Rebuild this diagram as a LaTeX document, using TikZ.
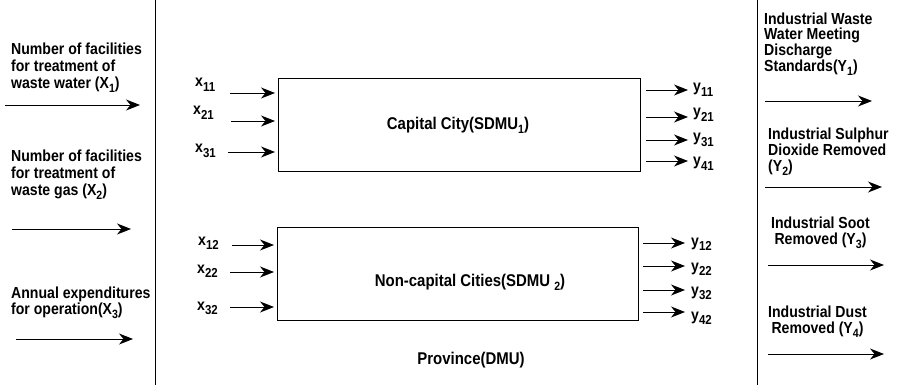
\documentclass[tikz,border=0pt]{standalone}
\usepackage{fontspec}
\setmainfont[FakeStretch=0.88]{Liberation Sans}
\usetikzlibrary{arrows.meta}
% lowered subscripts in the Helvetica-like style of the figure
\newcommand\lsub[1]{\raisebox{-0.45ex}{\fontsize{12}{12}\selectfont #1}}
\newcommand\xsub[1]{\raisebox{-0.55ex}{\fontsize{13}{13}\selectfont #1}}

\begin{document}
\begin{tikzpicture}[x=1pt,y=-1pt,
  txt/.style={font=\fontsize{16}{17}\selectfont\bfseries, inner sep=0pt, align=left, anchor=north west},
  lab/.style={font=\fontsize{16}{16}\selectfont\bfseries, inner sep=0pt, anchor=base west},
  title/.style={font=\fontsize{17}{17}\selectfont\bfseries, inner sep=0pt},
  arr/.style={-{Stealth[length=14pt,width=11pt,inset=4.5pt]}, line width=0.9pt},
  unit/.style={draw, line width=0.8pt, inner sep=0pt, anchor=north west}]

\useasboundingbox (0,0) rectangle (897,385);

% province (DMU) frame
\draw[line width=0.8pt] (155,-5) rectangle (757,390);
\node[title] (prov) at (471,360) {Province(DMU)};

% sub-DMUs
\node[unit, minimum width=362pt, minimum height=93pt] (cap) at (278,78) {};
\node[unit, minimum width=361pt, minimum height=93pt] (ncap) at (277,227) {};
\node[title] (capt) at (458,125) {Capital City(SDMU\lsub{1})};
\node[title] (ncapt) at (470,282) {Non-capital Cities(SDMU \lsub{2})};

% inputs of the capital city
\node[lab] (x11) at (195,87) {x\xsub{11}};
\node[lab] (x21) at (193,115) {x\xsub{21}};
\node[lab] (x31) at (195,153) {x\xsub{31}};
\coordinate (a11) at (230,93);
\coordinate (a21) at (231,121);
\coordinate (a31) at (228,152);
\foreach \c in {a11,a21,a31} \draw[arr, shorten >=3pt] (\c) -- (cap.west |- \c);

% inputs of the non-capital cities
\node[lab] (x12) at (198,245) {x\xsub{12}};
\node[lab] (x22) at (197,273) {x\xsub{22}};
\node[lab] (x32) at (197,310) {x\xsub{32}};
\coordinate (a12) at (232,245);
\coordinate (a22) at (230,272);
\coordinate (a32) at (230,307);
\foreach \c in {a12,a22,a32} \draw[arr, shorten >=3pt] (\c) -- (ncap.west |- \c);

% outputs of the capital city
\coordinate (b11) at (688,90);
\coordinate (b21) at (688,117);
\coordinate (b31) at (688,140);
\coordinate (b41) at (688,161);
\foreach \c in {b11,b21,b31,b41} \draw[arr, shorten <=5pt] (cap.east |- \c) -- (\c);
\node[lab] (y11) at (693,92) {y\xsub{11}};
\node[lab] (y21) at (693,117) {y\xsub{21}};
\node[lab] (y31) at (693,142) {y\xsub{31}};
\node[lab] (y41) at (693,166) {y\xsub{41}};

% outputs of the non-capital cities
\coordinate (b12) at (685,243);
\coordinate (b22) at (685,266);
\coordinate (b32) at (685,290);
\coordinate (b42) at (685,312);
\foreach \c in {b12,b22,b32,b42} \draw[arr, shorten <=4pt] (ncap.east |- \c) -- (\c);
\node[lab] (y12) at (691,246) {y\xsub{12}};
\node[lab] (y22) at (691,271) {y\xsub{22}};
\node[lab] (y32) at (691,295) {y\xsub{32}};
\node[lab] (y42) at (691,320) {y\xsub{42}};

% province inputs
\node[txt] (in1) at (11,43) {Number of facilities\\for treatment of\\waste water (X\lsub{1})};
\node[txt] (in2) at (11,150) {Number of facilities\\for treatment of\\waste gas (X\lsub{2})};
\node[txt, font=\fontsize{16}{15.5}\selectfont\bfseries] (in3) at (11,287) {Annual expenditures\\for operation(X\lsub{3})};
\coordinate (p1s) at (5,105);   \coordinate (p1e) at (140,105);
\coordinate (p2s) at (12,229);  \coordinate (p2e) at (131,229);
\coordinate (p3s) at (16,339);  \coordinate (p3e) at (133,339);
\draw[arr] (p1s) -- (p1e);
\draw[arr] (p2s) -- (p2e);
\draw[arr] (p3s) -- (p3e);

% province outputs
\node[txt, font=\fontsize{16}{14.8}\selectfont\bfseries] (out1) at (764,13) {Industrial Waste\\Water Meeting\\Discharge\\Standards(Y\lsub{1})};
\node[txt, font=\fontsize{16}{16}\selectfont\bfseries] (out2) at (768,128) {Industrial Sulphur\\Dioxide Removed\\(Y\lsub{2})};
\node[txt, align=center, font=\fontsize{16}{16}\selectfont\bfseries] (out3) at (771,217) {Industrial Soot\\Removed (Y\lsub{3})};
\node[txt, align=center, font=\fontsize{16}{15.5}\selectfont\bfseries] (out4) at (768,306) {Industrial Dust\\Removed (Y\lsub{4})};
\coordinate (q1s) at (765,101); \coordinate (q1e) at (872,101);
\coordinate (q2s) at (765,187); \coordinate (q2e) at (882,187);
\coordinate (q3s) at (768,265); \coordinate (q3e) at (884,265);
\coordinate (q4s) at (768,354); \coordinate (q4e) at (884,354);
\draw[arr] (q1s) -- (q1e);
\draw[arr] (q2s) -- (q2e);
\draw[arr] (q3s) -- (q3e);
\draw[arr] (q4s) -- (q4e);
\end{tikzpicture}
\end{document}
